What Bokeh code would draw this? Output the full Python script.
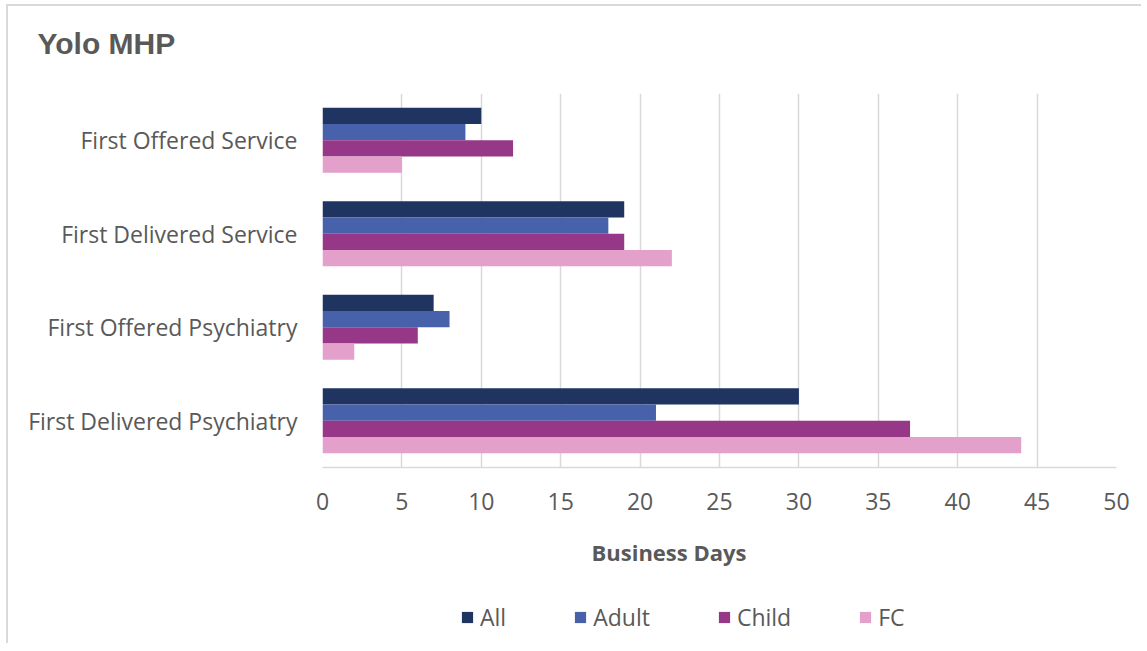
from bokeh.plotting import figure
from bokeh.layouts import column
from bokeh.models import FactorRange, Range1d, Legend, LegendItem, Title, FixedTicker
from bokeh.transform import dodge
from bokeh.embed import file_html
from bokeh.resources import INLINE

categories = ["First Offered Service", "First Delivered Service",
              "First Offered Psychiatry", "First Delivered Psychiatry"]
series = ["All", "Adult", "Child", "FC"]
all_vals = [10, 19, 7, 30]
adult_vals = [9, 18, 8, 21]
child_vals = [12, 19, 6, 37]
fc_vals = [5, 22, 2, 44]
colors = ["#1f3461", "#4762ab", "#973787", "#e2a0ca"]
x_ticks = [0, 5, 10, 15, 20, 25, 30, 35, 40, 45, 50]

data = {"cat": categories, "All": all_vals, "Adult": adult_vals,
        "Child": child_vals, "FC": fc_vals}

p = figure(frame_width=794, frame_height=374, output_backend="svg", toolbar_location=None,
           y_range=FactorRange(factors=list(reversed(categories))),
           x_range=Range1d(0, 50))
p.min_border_left = 314
p.min_border_right = 25
p.min_border_top = 87
p.min_border_bottom = 130
p.outline_line_color = None
p.border_fill_color = "white"
p.background_fill_color = "white"

bar_h = 0.174
offsets = [0.261, 0.087, -0.087, -0.261]
for s, c, off in zip(series, colors, offsets):
    p.hbar(y=dodge("cat", off, range=p.y_range), right=s, left=0,
           height=bar_h, color=c, line_color=None, source=data)

# axes
p.xaxis.ticker = FixedTicker(ticks=x_ticks)
p.xaxis.axis_line_color = "#d9d9d9"
p.xaxis.axis_line_width = 1.5
p.xaxis.major_tick_line_color = None
p.xaxis.minor_tick_line_color = None
p.xaxis.major_label_text_font = "Open Sans"
p.xaxis.major_label_text_font_size = "23px"
p.xaxis.major_label_text_color = "#595959"
p.xaxis.major_label_standoff = 19

p.yaxis.axis_line_color = None
p.yaxis.major_tick_line_color = None
p.yaxis.minor_tick_line_color = None
p.yaxis.major_label_text_font = "Open Sans"
p.yaxis.major_label_text_font_size = "23px"
p.yaxis.major_label_text_color = "#595959"
p.yaxis.major_label_standoff = 19

p.xgrid.grid_line_color = "#d9d9d9"
p.xgrid.grid_line_width = 1.5
p.ygrid.grid_line_color = None

xt = Title(text="Business Days", align="left", offset=269,
           text_font="Open Sans", text_font_size="22px", text_font_style="bold",
           text_color="#595959", standoff=44)
p.add_layout(xt, "below")

spacer = Title(text=" ", text_font_size="20px", standoff=10)
p.add_layout(spacer, "above")
title = Title(text="Yolo MHP", align="left", offset=-285,
              text_font="Liberation Sans", text_font_size="30px",
              text_font_style="bold", text_color="#595959", standoff=0)
p.add_layout(title, "above")

# legend strip below the chart (legend swatches only, nothing plotted)
leg = figure(width=1133, height=46, output_backend="svg", toolbar_location=None,
             x_axis_type=None, y_axis_type=None,
             x_range=Range1d(0, 1), y_range=Range1d(0, 1))
leg.min_border = 0
leg.outline_line_color = None
leg.grid.visible = False
items = []
nan = float("nan")
for s, c in zip(series, colors):
    r = leg.hbar(y=[nan], right=[nan], left=0, height=0.1, color=c, line_color=None)
    items.append(LegendItem(label=s, renderers=[r]))
legend = Legend(items=items, orientation="horizontal", location=(138, 10),
                label_text_font="Open Sans", label_text_font_size="23px",
                label_text_color="#595959", glyph_width=14, glyph_height=14,
                spacing=67, label_standoff=6, border_line_color=None,
                background_fill_alpha=0, margin=0, padding=0)
leg.add_layout(legend, "center")

layout = column(p, leg, spacing=0,
                styles={"margin-left": "6px", "margin-top": "4px",
                        "border-left": "2px solid #d9d9d9",
                        "border-top": "2px solid #d9d9d9"})

open("out.html", "w").write(file_html(layout, INLINE))
